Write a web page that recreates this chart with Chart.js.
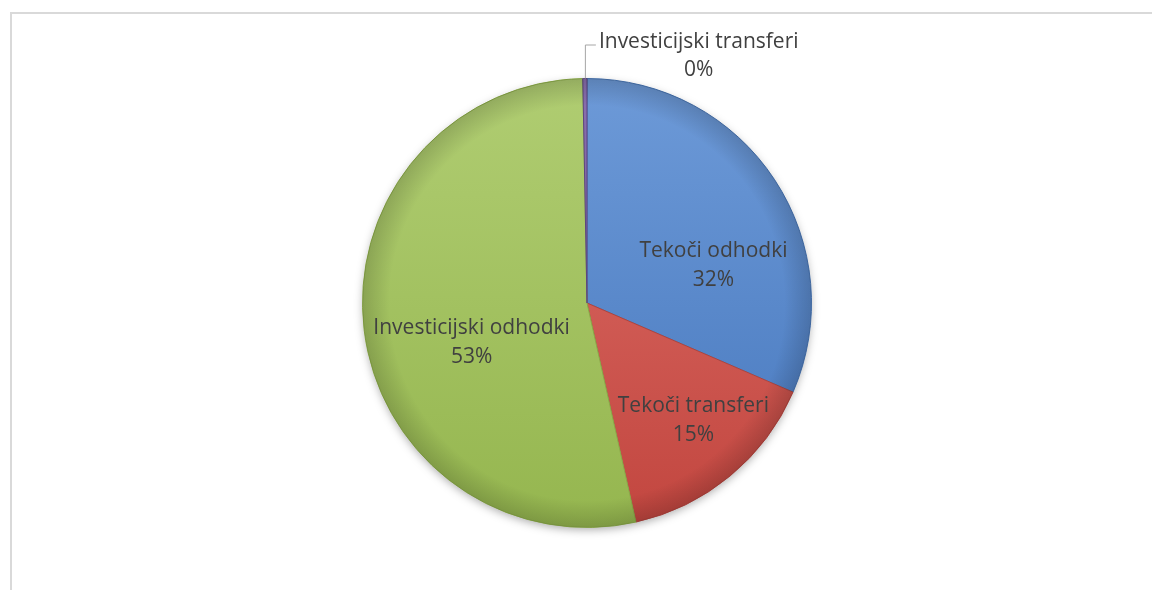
<!DOCTYPE html>
<html>
<head>
<meta charset="utf-8">
<script src="https://cdn.jsdelivr.net/npm/chart.js@4"></script>
<style>
    html, body { margin: 0; padding: 0; background: #ffffff; }
    #wrap { position: relative; width: 1152px; height: 590px; }
</style>
</head>
<body>
<div id="wrap"><canvas id="pieChart" width="1152" height="590"></canvas></div>
<script>
const categories = ['Tekoči odhodki', 'Tekoči transferi', 'Investicijski odhodki', 'Investicijski transferi'];
const shares = [31.5, 15.0, 53.2, 0.3];

const topColors = ['#6d9ad8', '#de6f69', '#b0cd72', '#8a6fae'];
const bottomColors = ['#4677bd', '#c2463f', '#95b64f', '#6b5190'];
const edgeColors = ['#4470ad', '#b0433d', '#8aa948', '#5c4680'];

// label placement: shift from slice mid angle (deg) and fraction of radius
const labelShift = [16, -3, -11, 0];
const labelRadius = [0.59, 0.70, 0.54, 0];

const total = shares.reduce((a, b) => a + b, 0);

function sliceFill(context) {
    const chart = context.chart;
    const area = chart.chartArea;
    if (!area) return topColors[context.dataIndex];
    const g = chart.ctx.createLinearGradient(0, area.top, 0, area.bottom);
    g.addColorStop(0, topColors[context.dataIndex]);
    g.addColorStop(1, bottomColors[context.dataIndex]);
    return g;
}

const framePlugin = {
    id: 'frame',
    beforeDraw(chart) {
        const ctx = chart.ctx;
        ctx.save();
        ctx.strokeStyle = '#d9d9d9';
        ctx.lineWidth = 2;
        ctx.beginPath();
        ctx.moveTo(11, chart.height);
        ctx.lineTo(11, 13);
        ctx.lineTo(chart.width, 13);
        ctx.stroke();
        ctx.restore();
    },
    beforeDatasetsDraw(chart) {
        // soft shadow under the pie
        const arc = chart.getDatasetMeta(0).data[0];
        if (!arc) return;
        const ctx = chart.ctx;
        ctx.save();
        ctx.shadowColor = 'rgba(0,0,0,0.35)';
        ctx.shadowBlur = 10;
        ctx.shadowOffsetY = 3;
        ctx.fillStyle = '#ffffff';
        ctx.beginPath();
        ctx.arc(arc.x, arc.y, arc.outerRadius - 1, 0, Math.PI * 2);
        ctx.fill();
        ctx.restore();
    }
};

const labelPlugin = {
    id: 'sliceLabels',
    afterDatasetsDraw(chart) {
        const ctx = chart.ctx;
        const arcs = chart.getDatasetMeta(0).data;
        const cx = arcs[0].x, cy = arcs[0].y, r = arcs[0].outerRadius;

        // bevel: darker rim
        ctx.save();
        const rim = ctx.createRadialGradient(cx, cy, r * 0.88, cx, cy, r);
        rim.addColorStop(0, 'rgba(0,0,0,0)');
        rim.addColorStop(1, 'rgba(0,0,0,0.16)');
        ctx.fillStyle = rim;
        ctx.beginPath();
        ctx.arc(cx, cy, r, 0, Math.PI * 2);
        ctx.fill();
        ctx.restore();

        ctx.save();
        ctx.font = '21px "Open Sans", Lato, sans-serif';
        ctx.fillStyle = '#404040';
        ctx.textAlign = 'center';
        ctx.textBaseline = 'middle';
        const lineH = 29;
        arcs.forEach((arc, i) => {
            const pct = Math.round(shares[i] / total * 100) + '%';
            const mid = (arc.startAngle + arc.endAngle) / 2;
            if (labelRadius[i] > 0) {
                const a = mid + labelShift[i] * Math.PI / 180;
                const x = cx + Math.cos(a) * r * labelRadius[i];
                const y = cy + Math.sin(a) * r * labelRadius[i] + 2;
                ctx.fillText(categories[i], x, y - lineH / 2);
                ctx.fillText(pct, x, y + lineH / 2);
            } else {
                // outside label with leader line
                const sx = cx + Math.cos(mid) * r;
                const sy = cy + Math.sin(mid) * r;
                const ly = cy - r - 34;
                const lx = sx + 11;
                ctx.strokeStyle = '#a6a6a6';
                ctx.lineWidth = 1;
                ctx.beginPath();
                ctx.moveTo(sx + 0.5, sy);
                ctx.lineTo(sx + 0.5, ly + 0.5);
                ctx.lineTo(lx, ly + 0.5);
                ctx.stroke();
                const w = ctx.measureText(categories[i]).width;
                const tx = lx + 3 + w / 2;
                ctx.fillText(categories[i], tx, ly - 2);
                ctx.fillText(pct, tx, ly - 2 + lineH - 1);
            }
        });
        ctx.restore();
    }
};

const ctx = document.getElementById('pieChart').getContext('2d');
new Chart(ctx, {
    type: 'pie',
    data: {
        labels: categories,
        datasets: [{
            data: shares,
            backgroundColor: sliceFill,
            borderColor: edgeColors,
            borderWidth: 1
        }]
    },
    options: {
        responsive: false,
        animation: false,
        layout: {
            padding: { top: 78, bottom: 62, left: 362, right: 340 }
        },
        plugins: {
            legend: { display: false },
            tooltip: { enabled: false }
        }
    },
    plugins: [framePlugin, labelPlugin]
});
</script>
</body>
</html>
